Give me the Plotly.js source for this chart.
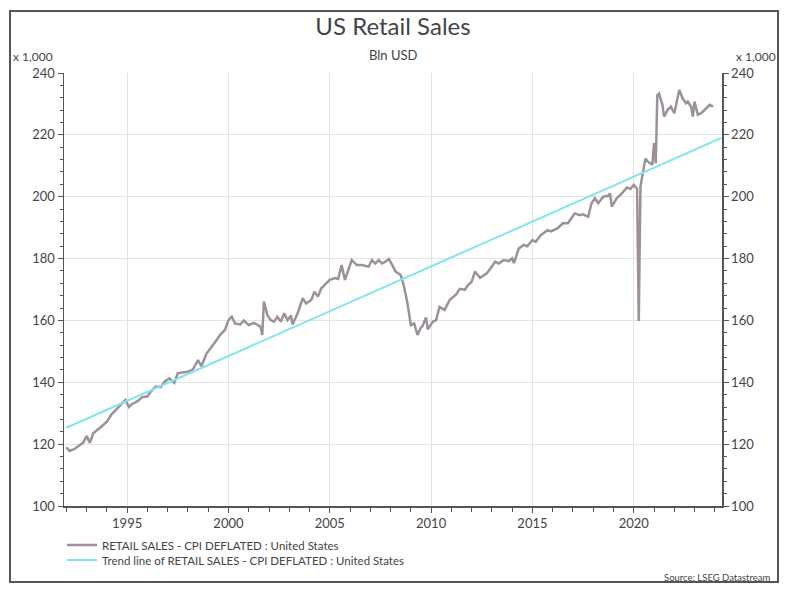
<!DOCTYPE html>
<html>
<head>
<meta charset="utf-8">
<script src="https://cdn.plot.ly/plotly-3.0.1.min.js"></script>
<style>html,body{margin:0;padding:0;background:#fff;}#chart{width:789px;height:595px;}</style>
</head>
<body>
<div id="chart"></div>
<script>
// ---- data ----
const salesDates = [
"1992-01","1992-03","1992-06","1992-08","1992-11","1993-01","1993-03","1993-05","1993-08","1993-10",
"1994-01","1994-04","1994-07","1994-10","1994-12","1995-02","1995-04","1995-07","1995-10","1996-01",
"1996-03","1996-06","1996-09","1996-11","1997-02","1997-05","1997-07","1997-10","1998-01","1998-04",
"1998-07","1998-09","1998-12","1999-04","1999-08","1999-11","2000-01","2000-03","2000-05","2000-08",
"2000-10","2001-01","2001-04","2001-06","2001-08","2001-09","2001-10","2001-12","2002-02","2002-04",
"2002-06","2002-08","2002-10","2002-12","2003-02","2003-03","2003-06","2003-09","2003-11","2004-02",
"2004-04","2004-06","2004-08","2004-10","2005-01","2005-04","2005-06","2005-08","2005-10","2006-02",
"2006-05","2006-08","2006-12","2007-02","2007-04","2007-06","2007-08","2007-10","2007-12","2008-02",
"2008-04","2008-07","2008-09","2008-11","2009-01","2009-03","2009-05","2009-07","2009-08","2009-10",
"2009-11","2010-02","2010-04","2010-06","2010-09","2010-12","2011-04","2011-06","2011-09","2011-11",
"2012-01","2012-03","2012-06","2012-10","2013-03","2013-05","2013-08","2013-11","2014-01","2014-02",
"2014-05","2014-08","2014-10","2015-01","2015-03","2015-06","2015-10","2015-12","2016-04","2016-07",
"2016-10","2017-02","2017-05","2017-07","2017-10","2017-12","2018-02","2018-04","2018-07","2018-10",
"2018-11","2018-12","2019-03","2019-06","2019-09","2019-11","2020-01","2020-02","2020-03","2020-04",
"2020-05","2020-06","2020-08","2020-09","2020-11","2020-12","2021-01","2021-02","2021-03","2021-04",
"2021-06","2021-07","2021-09","2021-11","2022-01","2022-04","2022-06","2022-08","2022-09","2022-11",
"2022-12","2023-01","2023-03","2023-05","2023-08","2023-10","2023-12"
];
const salesValues = [
119.0,117.8,118.5,119.2,120.5,122.6,120.4,123.5,124.8,125.8,
127.3,129.8,131.4,133.2,134.3,132.0,133.0,133.8,135.2,135.4,
137.0,138.6,138.4,140.1,141.3,139.8,142.9,143.2,143.4,144.2,
147.2,145.2,149.3,152.1,155.3,157.0,160.1,161.2,159.0,158.7,
160.0,158.5,159.2,158.6,158.0,155.3,166.1,161.8,160.1,159.6,
161.2,159.6,162.3,160.1,161.6,158.7,162.3,167.2,165.5,166.6,
169.3,167.7,170.4,171.5,173.1,173.7,173.4,177.9,173.1,179.5,
177.9,177.9,177.4,179.5,178.4,179.5,178.4,179.0,179.9,177.9,
175.8,174.7,170.9,165.5,158.5,159.0,155.3,157.7,158.2,161.0,
157.1,159.6,160.1,164.4,163.4,166.6,168.5,170.2,169.9,171.5,
172.5,175.8,173.8,175.2,179.0,178.4,179.5,179.2,180.1,178.5,
183.3,184.4,184.0,186.0,185.4,187.6,189.2,188.8,189.8,191.4,
191.4,194.6,194.0,194.3,193.5,197.9,199.5,197.9,200.0,200.3,
201.1,196.8,199.5,201.1,203.0,202.5,203.8,203.2,202.6,159.8,
203.2,206.5,212.4,211.5,210.8,210.3,217.3,210.8,232.9,233.4,
229.7,225.9,228.0,229.1,227.0,234.5,231.8,230.2,230.8,229.1,
225.9,230.7,226.5,227.0,228.6,229.7,229.1
];
const trendDates = ["1992-01-01","2024-04-30"];
const trendValues = [125.3, 219.0];
const seriesNames = ["RETAIL SALES - CPI DEFLATED : United States",
                     "Trend line of RETAIL SALES - CPI DEFLATED : United States"];
const yTicks = [100,120,140,160,180,200,220,240];

// ---- layout geometry (pixels) ----
const W = 789, H = 595;
const L = 64, R = 722, T = 73, B = 506;
const pw = R - L, ph = B - T;
const px = x => (x - L) / pw;
const py = y => (B - y) / ph;
const FONT = "Lato, 'Open Sans', sans-serif";
const TXT = "#444444";
const AXC = "#555555";

const traces = [
  {x: salesDates, y: salesValues, type: "scatter", mode: "lines", name: seriesNames[0],
   line: {color: "#9c919b", width: 2.5}, hoverinfo: "x+y", legend: "legend"},
  {x: trendDates, y: trendValues, type: "scatter", mode: "lines", name: seriesNames[1],
   line: {color: "#7fe6ec", width: 2}, hoverinfo: "x+y", legend: "legend2"},
  {x: trendDates, y: trendValues, type: "scatter", mode: "lines", yaxis: "y2",
   line: {color: "rgba(0,0,0,0)", width: 0}, showlegend: false, hoverinfo: "skip"}
];

const yBase = {
  range: [100, 240], tickvals: yTicks, ticktext: yTicks.map(String),
  ticks: "outside", ticklen: 5, tickcolor: AXC, tickwidth: 1,
  showline: true, linecolor: AXC, linewidth: 1.5,
  minor: {dtick: 4, tick0: 100, ticks: "outside", ticklen: 3, tickcolor: AXC, showgrid: false},
  tickfont: {family: FONT, size: 13, color: TXT},
  zeroline: false, fixedrange: true
};

const legBase = {orientation: "v", x: px(62), xanchor: "left", yanchor: "middle",
  font: {family: FONT, size: 11.5, color: TXT}, bgcolor: "rgba(0,0,0,0)", borderwidth: 0, itemwidth: 30};

const layout = {
  width: W, height: H,
  margin: {l: L, r: W - R, t: T, b: H - B, pad: 0},
  paper_bgcolor: "#ffffff", plot_bgcolor: "#ffffff",
  font: {family: FONT, color: TXT},
  title: {text: "US Retail Sales", font: {family: FONT, size: 24, color: "#444", weight: 400},
          x: 0.5, xref: "paper", xanchor: "center", y: 1 - 27 / H, yref: "container", yanchor: "middle"},
  xaxis: {
    type: "date", range: ["1991-11-20", "2024-05-10"],
    tick0: "1995-01-01", dtick: "M60", tickformat: "%Y",
    ticks: "outside", ticklen: 5, tickcolor: AXC,
    minor: {dtick: "M12", tick0: "1992-01-01", ticks: "outside", ticklen: 4, tickcolor: AXC, showgrid: false},
    showgrid: true, gridcolor: "#e3e3e3", gridwidth: 1,
    showline: true, linecolor: AXC, linewidth: 1.5,
    tickfont: {family: FONT, size: 13, color: TXT}, fixedrange: true
  },
  yaxis: Object.assign({}, yBase, {side: "left", showgrid: true, gridcolor: "#e3e3e3", gridwidth: 1}),
  yaxis2: Object.assign({}, yBase, {side: "right", overlaying: "y", matches: "y", showgrid: false}),
  showlegend: true,
  legend: Object.assign({}, legBase, {y: py(545)}),
  legend2: Object.assign({}, legBase, {y: py(560)}),
  annotations: [
    {text: "Bln USD", xref: "paper", yref: "paper", x: 0.5, y: py(55), xanchor: "center", yanchor: "middle",
     showarrow: false, font: {family: FONT, size: 13, color: TXT}},
    {text: "x 1,000", xref: "paper", yref: "paper", x: px(11), y: py(56), xanchor: "left", yanchor: "middle",
     showarrow: false, font: {family: FONT, size: 12, color: TXT}},
    {text: "x 1,000", xref: "paper", yref: "paper", x: px(778), y: py(56), xanchor: "right", yanchor: "middle",
     showarrow: false, font: {family: FONT, size: 12, color: TXT}},
    {text: "Source: LSEG Datastream", xref: "paper", yref: "paper", x: px(772), y: py(577), xanchor: "right", yanchor: "middle",
     showarrow: false, font: {family: FONT, size: 9.5, color: TXT}}
  ],
  shapes: [
    {type: "rect", xref: "paper", yref: "paper", x0: px(10), x1: px(778), y0: py(582), y1: py(11),
     line: {color: "#555555", width: 2}, fillcolor: "rgba(0,0,0,0)", layer: "below"}
  ]
};

Plotly.newPlot("chart", traces, layout, {displayModeBar: false, staticPlot: true});
</script>
</body>
</html>
